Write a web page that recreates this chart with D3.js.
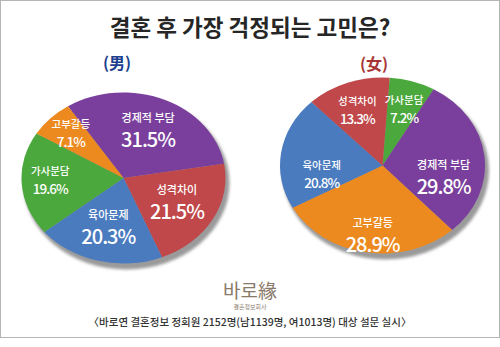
<!DOCTYPE html>
<html><head><meta charset="utf-8">
<script src="https://cdn.jsdelivr.net/npm/d3@7"></script>
<style>
body{margin:0;background:#fff;}
svg{display:block;}
text{font-family:"Noto Sans CJK KR","Noto Sans",sans-serif;}
</style></head>
<body>
<script>
const title = "결혼 후 가장 걱정되는 고민은?";
const maleCategories = ["경제적 부담","성격차이","육아문제","가사분담","고부갈등"];
const maleValues = [31.5,21.5,20.3,19.6,7.1];
const femaleCategories = ["가사분담","경제적 부담","고부갈등","육아문제","성격차이"];
const femaleValues = [7.2,29.8,28.9,20.8,13.3];
const colorMap = {"경제적 부담":"#7a3f9c","성격차이":"#c0474a","육아문제":"#4a7bbf","가사분담":"#4ba83c","고부갈등":"#ec8a1f"};
const logoText = "바로緣";
const logoSub = "결혼정보회사";
const footer = "〈바로연 결혼정보 정회원 2152명(남1139명, 여1013명) 대상 설문 실시〉";

const W=500,H=347;
const svg=d3.select("body").append("svg").attr("width",W).attr("height",H);
const defs=svg.append("defs");
defs.append("filter").attr("id","blur").attr("x","-10%").attr("y","-10%").attr("width","120%").attr("height","120%")
  .append("feGaussianBlur").attr("stdDeviation",1.6);

svg.append("rect").attr("x",0.5).attr("y",0.5).attr("width",W-1).attr("height",337).attr("fill","#fff").attr("stroke","#b5b5b5");

svg.append("text").attr("x",250).attr("y",36).attr("text-anchor","middle")
  .attr("font-size",22.5).attr("font-weight",700).attr("fill","#262626").text(title);

svg.append("text").attr("x",117).attr("y",69).attr("text-anchor","middle")
  .attr("font-size",16).attr("font-weight",700).attr("fill","#1d3f8e").text("(男)");
svg.append("text").attr("x",374).attr("y",70).attr("text-anchor","middle")
  .attr("font-size",16).attr("font-weight",700).attr("fill","#a83434").text("(女)");

function drawPie(cats, vals, cx, cy, rx, ry, startDeg, bigThreshold, dyBig, dySmall){
  const ratio=ry/rx;
  const data=cats.map((c,i)=>({cat:c,val:vals[i]}));
  const pie=d3.pie().value(d=>d.val).sort(null)
    .startAngle(startDeg*Math.PI/180).endAngle(startDeg*Math.PI/180+2*Math.PI);
  const arcs=pie(data);
  svg.append("ellipse").attr("cx",cx+3).attr("cy",cy+5).attr("rx",rx+1).attr("ry",ry+1)
    .attr("fill","#9a9a9a").attr("filter","url(#blur)");
  const g=svg.append("g").attr("transform",`translate(${cx},${cy}) scale(1,${ratio})`);
  const arc=d3.arc().innerRadius(0).outerRadius(rx);
  g.selectAll("path").data(arcs).join("path").attr("d",arc)
    .attr("fill",d=>colorMap[d.data.cat]);
  arcs.forEach(d=>{
    const wide=d.data.val>=20;
    const lr = wide ? rx*0.6 : rx*0.72;
    const la=d3.arc().innerRadius(lr).outerRadius(lr);
    const [x,y]=la.centroid(d);
    const big=d.data.val>=bigThreshold;
    const px=cx+x, py=cy+y*ratio+(wide?dyBig:dySmall);
    svg.append("text").attr("text-anchor","middle").attr("fill","#fff")
      .attr("x",px).attr("y",big?py-9:py-7).attr("font-size",big?11:10.5).attr("font-weight",500)
      .text(d.data.cat);
    svg.append("text").attr("text-anchor","middle").attr("fill","#fff")
      .attr("x",px).attr("y",big?py+16:py+12).attr("font-size",big?20:13.5)
      .attr("font-weight",500).attr("letter-spacing",-1).attr("font-family","'Noto Sans',sans-serif")
      .text(d.data.val.toFixed(1)+"%");
  });
}
drawPie(maleCategories,maleValues,123.5,178,102,85.5,-33,20.3,0,0);
drawPie(femaleCategories,femaleValues,382.5,165.5,102.5,88,4,21,18,6);

svg.append("text").attr("x",250).attr("y",298).attr("text-anchor","middle")
  .attr("font-family","'Noto Serif CJK KR','DejaVu Serif',serif").attr("font-size",19).attr("fill","#8a7a6a").text(logoText);
svg.append("text").attr("x",250).attr("y",309).attr("text-anchor","middle")
  .attr("font-size",6).attr("fill","#8a7a6a").text(logoSub);
svg.append("text").attr("x",250).attr("y",326).attr("text-anchor","middle")
  .attr("font-size",10.5).attr("font-weight",500).attr("fill","#333").text(footer);
</script>
</body></html>
